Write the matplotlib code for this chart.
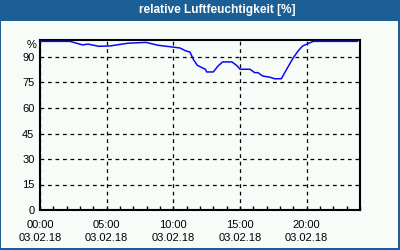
import matplotlib
matplotlib.use("Agg")
import matplotlib.pyplot as plt
from matplotlib.patches import Rectangle
from matplotlib.ticker import MultipleLocator

# data (hours since 00:00, relative humidity %)
hours = [0, 2.25, 3.2, 3.6, 4.4, 5.25, 6.6, 7.95, 8.85, 9.9, 10.5, 10.9, 11.25,
         11.5, 11.8, 12.4, 12.5, 13.0, 13.35, 13.7, 14.4, 14.8, 15.0, 15.75,
         16.1, 16.35, 16.7, 17.25, 17.6, 18.1, 18.5, 19.0, 19.35, 19.7, 20.25,
         20.5, 23.8]
humidity = [99.2, 99.2, 97.1, 97.6, 96.3, 96.5, 98.1, 98.6, 96.9, 95.9, 95.3,
            93.7, 92.9, 88.6, 85.1, 82.8, 81.2, 81.2, 84.7, 87.1, 87.1, 84.7,
            82.8, 82.8, 80.8, 80.8, 78.8, 78.1, 77.2, 77.2, 82.8, 89.6, 93.5,
            96.5, 98.4, 99.2, 99.2]
y_ticks = [0, 15, 30, 45, 60, 75, 90]
x_ticks = [0, 5, 10, 15, 20]
x_labels = ["00:00\n03.02.18", "05:00\n03.02.18", "10:00\n03.02.18",
            "15:00\n03.02.18", "20:00\n03.02.18"]
title = "relative Luftfeuchtigkeit [%]"

W, H = 400, 250
bg = "#f8fcf8"
blue_bar = "#1c5f96"

fig = plt.figure(figsize=(4, 2.5), dpi=100, facecolor=bg)

# title bar and frame
fig.patches.append(Rectangle((0, 1 - 20.5 / H), 1, 20.5 / H, transform=fig.transFigure,
                             facecolor=blue_bar, edgecolor="none", zorder=0))
fig.patches.append(Rectangle((0, 0), 1.2 / W, 1, transform=fig.transFigure,
                             facecolor=blue_bar, edgecolor="none", zorder=0))
fig.patches.append(Rectangle((1 - 2 / W, 0), 2 / W, 1, transform=fig.transFigure,
                             facecolor=blue_bar, edgecolor="none", zorder=0))
fig.patches.append(Rectangle((0, 0), 1, 2 / H, transform=fig.transFigure,
                             facecolor=blue_bar, edgecolor="none", zorder=0))
fig.text(217 / W, 1 - 10.5 / H, title, color="white", fontsize=8.6,
         fontweight="bold", family="Liberation Sans", ha="center", va="center")

ax = fig.add_axes([40 / W, 40 / H, 320 / W, 170 / H])
ax.set_facecolor(bg)
ax.plot(hours, humidity, color="#0a0af0", lw=1.1, zorder=3)
ax.set_xlim(0, 24)
ax.set_ylim(0, 100)

ax.set_yticks(y_ticks)
ax.set_yticklabels([str(v) for v in y_ticks])
ax.set_xticks(x_ticks)
ax.set_xticklabels(x_labels)
ax.xaxis.set_minor_locator(MultipleLocator(1))
for lab in ax.get_xticklabels() + ax.get_yticklabels():
    lab.set_family("Liberation Sans")
    lab.set_fontsize(8)
    lab.set_linespacing(1.35)
ax.tick_params(axis="x", which="both", direction="in", length=3, width=1,
               pad=7, top=False)
ax.tick_params(axis="y", length=0, pad=4)
ax.text(-0.012, 97, "%", transform=ax.get_yaxis_transform(), ha="right",
        va="center", fontsize=8, family="Liberation Sans")

ax.grid(True, which="major", color="black", linestyle=(0, (3, 3)), lw=0.9)
for s in ax.spines.values():
    s.set_color("black")
    s.set_linewidth(1.5)

fig.savefig("out.png", dpi=100, facecolor=bg)
